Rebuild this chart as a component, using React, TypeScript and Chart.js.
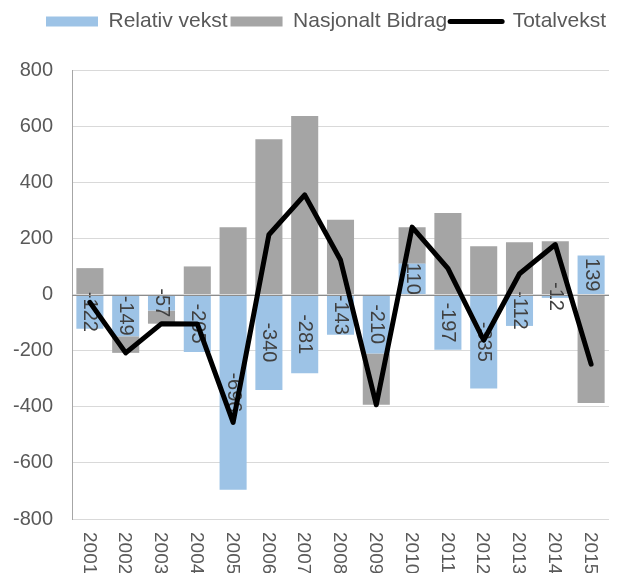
import React, { useEffect, useRef } from 'react';
import { Chart, registerables } from 'chart.js';

Chart.register(...registerables);

const years = ['2001', '2002', '2003', '2004', '2005', '2006', '2007', '2008', '2009', '2010', '2011', '2012', '2013', '2014', '2015'];
const relativVekst = [-122, -149, -57, -205, -696, -340, -281, -143, -210, 110, -197, -335, -112, -12, 139];
const nasjonaltBidrag = [94, -59, -47, 100, 240, 553, 636, 266, -183, 130, 290, 172, 186, 190, -387];
const totalvekst = [-28, -208, -104, -105, -456, 213, 355, 123, -393, 240, 93, -163, 74, 178, -248];
const yMin = -800;
const yMax = 800;
const yStep = 200;

const FONT = '"Liberation Sans", Arial, sans-serif';
const TEXT = '#595959';

const barLabels = {
  id: 'barLabels',
  beforeInit(chart: any) {
    const lg = chart.legend;
    if (lg && !lg.__patched) {
      const orig = lg.fit;
      lg.fit = function () {
        orig.call(this);
        this.height += 28;
      };
      lg.__patched = true;
    }
  },
  afterDatasetDraw(chart: any, args: any) {
    if (args.index !== 0) return;
    const ctx = chart.ctx;
    ctx.save();
    ctx.font = `20px ${FONT}`;
    ctx.fillStyle = '#404040';
    ctx.textAlign = 'center';
    ctx.textBaseline = 'middle';
    args.meta.data.forEach((el: any, i: number) => {
      const p = el.getProps(['x', 'y', 'base'], true);
      const cy = (p.y + p.base) / 2;
      ctx.save();
      ctx.translate(p.x, cy);
      ctx.rotate(Math.PI / 2);
      ctx.fillText(String(relativVekst[i]), 0, 0);
      ctx.restore();
    });
    ctx.restore();
  },
  beforeDatasetDraw(chart: any, args: any) {
    if (args.index !== 2) return;
    const ctx = chart.ctx;
    const y = Math.round(chart.scales.y.getPixelForValue(0)) + 0.5;
    ctx.save();
    ctx.strokeStyle = '#8c8c8c';
    ctx.lineWidth = 1;
    ctx.beginPath();
    ctx.moveTo(chart.chartArea.left, y);
    ctx.lineTo(chart.chartArea.right, y);
    ctx.stroke();
    ctx.restore();
  },
  afterDraw(chart: any) {
    const ctx = chart.ctx;
    const xs = chart.scales.x;
    ctx.save();
    ctx.font = `19px ${FONT}`;
    ctx.fillStyle = TEXT;
    ctx.textAlign = 'left';
    ctx.textBaseline = 'middle';
    chart.data.labels.forEach((lab: string, i: number) => {
      const x = xs.getPixelForTick(i) - 1;
      ctx.save();
      ctx.translate(x, chart.chartArea.bottom + 13);
      ctx.rotate(Math.PI / 2);
      ctx.fillText(lab, 0, 0);
      ctx.restore();
    });
    ctx.restore();
  },
};

export default function App() {
  const ref = useRef<HTMLCanvasElement | null>(null);
  useEffect(() => {
    if (!ref.current) return;
    Chart.defaults.font.family = FONT;
    const chart = new Chart(ref.current, {
      type: 'bar',
      data: {
        labels: years,
        datasets: [
          {
            type: 'bar',
            label: 'Relativ vekst',
            data: relativVekst,
            backgroundColor: '#9DC3E6',
            stack: 's',
            barPercentage: 0.756,
            categoryPercentage: 1,
            order: 1,
          },
          {
            type: 'bar',
            label: 'Nasjonalt Bidrag',
            data: nasjonaltBidrag,
            backgroundColor: '#A5A5A5',
            stack: 's',
            barPercentage: 0.756,
            categoryPercentage: 1,
            order: 1,
          },
          {
            type: 'line',
            label: 'Totalvekst',
            data: totalvekst,
            borderColor: '#000000',
            backgroundColor: '#000000',
            borderWidth: 5,
            pointRadius: 0,
            tension: 0,
            stack: 'line',
            borderJoinStyle: 'round',
            borderCapStyle: 'round',
            order: 0,
          } as any,
        ],
      },
      options: {
        animation: false,
        responsive: true,
        maintainAspectRatio: false,
        layout: { padding: { top: 0, right: 0, left: 0, bottom: 0 } },
        plugins: {
          tooltip: { enabled: false },
          legend: {
            position: 'top',
            align: 'end',
            labels: {
              font: { size: 21, family: FONT },
              color: TEXT,
              usePointStyle: true,
              pointStyleWidth: 52,
              boxHeight: 10,
              padding: 3,
              generateLabels: (chart: any) =>
                chart.data.datasets.map((ds: any, i: number) => ({
                  text: ds.label,
                  fillStyle: ds.backgroundColor,
                  strokeStyle: ds.borderColor || ds.backgroundColor,
                  lineWidth: ds.type === 'line' ? 5 : 0,
                  lineCap: 'round',
                  pointStyle: ds.type === 'line' ? 'line' : 'rect',
                  fontColor: TEXT,
                  hidden: false,
                  datasetIndex: i,
                })),
            },
          },
        },
        scales: {
          x: {
            stacked: true,
            grid: { display: false },
            border: { display: false },
            ticks: { display: false },
            afterFit: (s: any) => {
              s.height = 54;
            },
          },
          y: {
            stacked: true,
            min: yMin,
            max: yMax,
            grid: { color: '#D9D9D9', drawTicks: false },
            border: { display: true, color: '#A6A6A6', width: 1 },
            ticks: {
              stepSize: yStep,
              padding: 19,
              color: TEXT,
              font: { size: 20, family: FONT },
            },
            afterFit: (s: any) => {
              s.width = 64;
            },
          },
        },
      },
      plugins: [barLabels],
    });
    return () => chart.destroy();
  }, []);
  return (
    <div style={{ position: 'relative', width: 601, height: 565 }}>
      <canvas ref={ref} />
    </div>
  );
}
